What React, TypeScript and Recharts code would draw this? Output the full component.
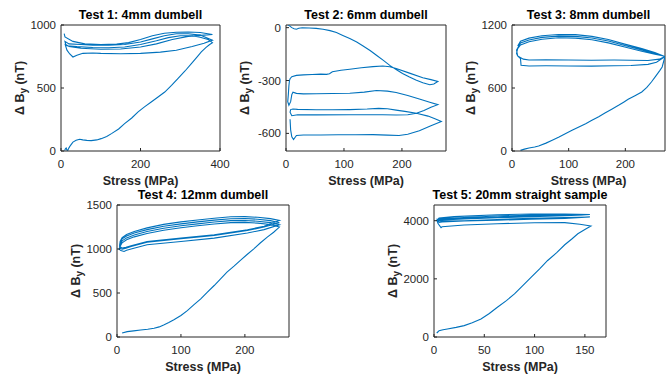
import React from 'react';
import { LineChart, Line, XAxis, YAxis, CartesianGrid } from 'recharts';

type Pt = [number, number];

// stress (MPa), delta By (nT), in recording order
const test1: Pt[] = [
  [9, 3], [11, 18], [13, 24], [15, 8], [17, 5], [20, 25], [24, 45], [30, 71], [38, 85], [47, 93], [55, 88], [65, 84],
  [76, 82], [90, 88], [101, 98], [115, 115], [127, 138], [145, 175], [160, 217], [178, 262], [194, 310], [210, 350],
  [227, 389], [245, 430], [261, 468], [278, 520], [294, 574], [312, 635], [328, 693], [342, 745], [353, 786],
  [365, 822], [374, 845], [381, 860],
  [370, 885], [350, 903], [330, 915], [300, 915], [270, 900], [240, 875], [200, 845], [160, 825], [120, 820],
  [80, 822], [40, 828], [15, 835], [10, 850], [15, 800], [22, 770], [30, 746], [40, 760], [55, 775], [80, 778],
  [100, 775], [150, 772], [200, 775], [250, 785], [290, 800], [330, 830], [360, 855], [381, 880],
  [350, 920], [320, 930], [290, 930], [260, 915], [230, 890], [200, 865], [160, 845], [120, 840], [80, 840],
  [50, 845], [20, 850], [10, 870], [12, 845], [20, 830], [50, 815], [100, 808], [150, 810], [200, 825], [240, 850],
  [280, 885], [320, 910], [360, 920], [381, 925],
  [350, 940], [320, 945], [290, 943], [260, 935], [230, 915], [200, 885], [170, 860], [140, 848], [100, 845],
  [60, 850], [30, 870], [10, 905], [8, 931],
];

const test2: Pt[] = [
  [3, 17], [6, 10], [10, 0], [14, -6], [18, -9], [22, -3], [28, -1], [40, -2], [52, -4], [64, -9], [76, -17],
  [87, -28], [98, -44], [110, -62], [122, -82], [133, -104], [145, -130], [156, -157], [168, -186], [179, -214],
  [190, -238], [201, -260], [213, -280], [224, -297], [236, -313], [248, -324], [255, -320], [262, -305],
  [250, -295], [236, -284], [213, -258], [190, -232], [179, -222], [167, -218], [150, -221], [130, -228],
  [110, -236], [95, -242], [80, -250], [75, -262], [70, -265], [60, -264], [45, -266], [30, -268], [18, -271],
  [10, -278], [7, -290], [6, -300], [5, -330], [4, -380], [3, -420], [5, -440], [8, -420], [10, -380], [12, -366],
  [18, -373], [30, -376], [52, -375], [80, -374], [110, -372], [135, -366], [156, -357], [175, -360], [190, -368],
  [210, -385], [230, -405], [248, -423], [262, -437],
  [250, -452], [238, -470], [225, -486], [210, -494], [190, -496], [167, -494], [110, -494], [52, -495],
  [20, -494], [10, -500], [7, -480], [8, -465], [12, -462],
  [20, -464], [52, -466], [80, -466], [110, -465], [140, -462], [160, -458], [175, -460], [190, -468], [205, -475],
  [225, -486], [245, -502], [258, -518], [268, -533],
  [250, -557], [230, -585], [210, -605], [195, -612], [175, -610], [150, -607], [120, -608], [90, -608],
  [60, -609], [30, -609], [18, -612], [13, -635], [10, -620], [8, -580], [7, -520],
];

const test3: Pt[] = [
  [15, 6], [22, 18], [30, 29], [40, 38], [47, 48], [60, 75], [71, 102], [83, 133], [94, 165], [106, 197],
  [118, 229], [130, 260], [141, 292], [153, 327], [164, 362], [176, 398], [188, 435], [197, 465], [205, 492],
  [217, 527], [229, 562], [238, 605], [246, 657], [254, 715], [261, 768], [265, 800], [270, 902],
  [252, 922], [229, 950], [199, 990], [170, 1030], [141, 1060], [112, 1075], [82, 1078], [53, 1065], [30, 1040],
  [15, 1010], [10, 975], [8, 930], [10, 905], [15, 880], [16, 816],
  [30, 810], [60, 812], [100, 810], [140, 808], [180, 812], [210, 815], [240, 825], [255, 845], [270, 900],
  [252, 930], [229, 963], [199, 1005], [170, 1047], [141, 1076], [112, 1092], [82, 1094], [53, 1082], [30, 1058],
  [15, 1028], [8, 960], [10, 905], [20, 875],
  [30, 866], [60, 868], [100, 866], [140, 864], [180, 866], [210, 864], [240, 862], [260, 875], [270, 900],
  [252, 938], [229, 975], [199, 1018], [170, 1062], [141, 1092], [112, 1108], [82, 1110], [53, 1098], [30, 1075],
  [15, 1045], [10, 1000],
];

const test4: Pt[] = [
  [8, 46], [16, 61], [26, 70], [37, 80], [48, 88], [58, 99], [66, 115], [73, 137], [81, 165], [89, 197],
  [100, 245], [110, 300], [120, 365], [131, 433], [141, 508], [152, 585], [162, 660], [172, 737], [183, 805],
  [193, 870], [203, 935], [214, 1002], [224, 1068], [235, 1135], [245, 1190], [254, 1249],
  [240, 1278], [220, 1294], [200, 1302], [178, 1300], [152, 1284], [126, 1264], [100, 1242], [73, 1214],
  [47, 1176], [27, 1138], [15, 1104], [8, 1070], [5, 1030], [3, 1000], [6, 982], [11, 972], [15, 985],
  [22, 1000], [47, 1048], [100, 1086], [152, 1124], [204, 1181], [230, 1220], [254, 1276],
  [240, 1300], [220, 1316], [200, 1324], [178, 1322], [152, 1306], [126, 1286], [100, 1264], [73, 1236],
  [47, 1198], [27, 1160], [15, 1126], [8, 1092], [5, 1050], [4, 1010], [8, 998], [14, 1010],
  [22, 1030], [47, 1078], [100, 1116], [152, 1154], [204, 1211], [230, 1249], [254, 1299],
  [240, 1322], [220, 1338], [200, 1346], [178, 1344], [152, 1328], [126, 1308], [100, 1286], [73, 1258],
  [47, 1220], [27, 1182], [15, 1148], [8, 1115], [5, 1075], [4, 1030], [8, 1012], [14, 1020],
  [22, 1038], [47, 1086], [100, 1124], [152, 1162], [204, 1218], [230, 1258], [254, 1325],
  [240, 1345], [220, 1360], [200, 1368], [178, 1366], [152, 1350], [126, 1330], [100, 1308], [73, 1280],
  [47, 1240], [27, 1200], [15, 1165], [8, 1130], [5, 1090], [4, 1040], [6, 1005],
];

const test5: Pt[] = [
  [2.7, 138], [4, 180], [5, 218], [9, 250], [13.3, 276], [22, 330], [30, 391], [38, 490], [46.7, 621], [55, 810],
  [63, 1023], [72, 1250], [80, 1483], [88, 1760], [96.7, 2057], [105, 2340], [113, 2632], [122, 2900],
  [130, 3172], [137, 3370], [143, 3552], [150, 3700], [156, 3816],
  [145, 3880], [130, 3935], [100, 3930], [63, 3895], [30, 3850], [8, 3790], [7, 3760],
  [4, 3900], [3, 4000], [10, 3990], [30, 4000], [63, 4040], [96.7, 4080], [130, 4110], [155, 4126],
  [130, 4080], [96.7, 4050], [63, 4020], [30, 3990], [8, 3960], [5, 3940],
  [3, 4050], [10, 4070], [30, 4110], [63, 4160], [96.7, 4190], [130, 4200], [155, 4207],
  [130, 4170], [96.7, 4140], [63, 4100], [30, 4060], [8, 4030], [3, 4010],
  [5, 4090], [20, 4140], [63, 4207], [96.7, 4230], [130, 4225], [155, 4215],
  [130, 4190], [96.7, 4160], [63, 4120], [30, 4080], [10, 4050],
];

const titles = ['Test 1: 4mm dumbell', 'Test 2: 6mm dumbell', 'Test 3: 8mm dumbell', 'Test 4: 12mm dumbell', 'Test 5: 20mm straight sample'];
const xTicks = [[0, 200, 400], [0, 100, 200], [0, 100, 200], [0, 100, 200], [0, 50, 100, 150]];
const yTicks = [[0, 500, 1000], [-600, -300, 0], [0, 600, 1200], [0, 500, 1000, 1500], [0, 2000, 4000]];
const xDomains: [number, number][] = [[0, 400], [0, 276], [0, 270], [0, 269], [0, 171]];
const yDomains: [number, number][] = [[0, 1000], [-700, 15], [0, 1200], [0, 1500], [0, 4540]];

// plot box placement on the page: left, top, width, height
const boxes = [
  [61, 25, 159, 126],
  [286, 25, 160, 126],
  [512, 25, 153, 126],
  [117, 205, 172, 132],
  [434, 205, 172, 132],
];

const YW = 60;
const MT = 8;
const MR = 14;
const XH = 45;
const AX = '#262626';

function Panel({ i, points }: { i: number; points: Pt[] }) {
  const [left, top, w, h] = boxes[i];
  const data = points.map(([x, y]) => ({ x, y }));
  const cx = YW + w / 2;
  const cy = MT + h / 2;
  return (
    <>
      <div
        style={{
          position: 'absolute', left: left - 40, top: top - 17, width: w + 80, textAlign: 'center',
          fontSize: 12.5, fontWeight: 'bold', lineHeight: '15px', color: '#000', whiteSpace: 'nowrap',
        }}
      >
        {titles[i]}
      </div>
      <div style={{ position: 'absolute', left: left - YW, top: top - MT }}>
        <LineChart width={w + YW + MR} height={h + MT + XH} data={data} margin={{ top: MT, right: MR, left: 0, bottom: 0 }}>
          {/* top and right edges of the axes box */}
          <CartesianGrid horizontalPoints={[MT]} verticalPoints={[YW + w]} stroke={AX} strokeWidth={1} />
          <XAxis
            dataKey="x" type="number" domain={xDomains[i]} ticks={xTicks[i]} allowDataOverflow interval={0}
            height={XH} tickSize={-3} tickMargin={12} stroke={AX}
            tick={{ fontSize: 11.5, fill: AX }}
            label={{
              content: () => (
                <text x={cx} y={MT + h + 33.5} textAnchor="middle" fontSize={12.5} fontWeight="bold" fill={AX}>
                  Stress (MPa)
                </text>
              ),
            }}
          />
          <YAxis
            type="number" domain={yDomains[i]} ticks={yTicks[i]} allowDataOverflow interval={0}
            width={YW} tickSize={-3} tickMargin={8} stroke={AX}
            tick={{ fontSize: 11.5, fill: AX }}
            label={{
              content: () => (
                <text
                  x={YW - 42} y={cy + 4.5} transform={`rotate(-90, ${YW - 42}, ${cy})`}
                  textAnchor="middle" fontSize={12.5} fontWeight="bold" fill={AX}
                >
                  Δ B<tspan dy={3} fontSize={10}>y</tspan><tspan dy={-3}> (nT)</tspan>
                </text>
              ),
            }}
          />
          <Line type="linear" dataKey="y" stroke="#0072BD" strokeWidth={1.1} dot={false} isAnimationActive={false} />
        </LineChart>
      </div>
    </>
  );
}

export default function App() {
  const all = [test1, test2, test3, test4, test5];
  return (
    <div
      style={{
        position: 'absolute', left: 0, top: 0, width: 668, height: 375, background: '#fff',
        fontFamily: '"Liberation Sans", Arial, Helvetica, sans-serif',
      }}
    >
      {all.map((pts, i) => (
        <Panel key={i} i={i} points={pts} />
      ))}
    </div>
  );
}
